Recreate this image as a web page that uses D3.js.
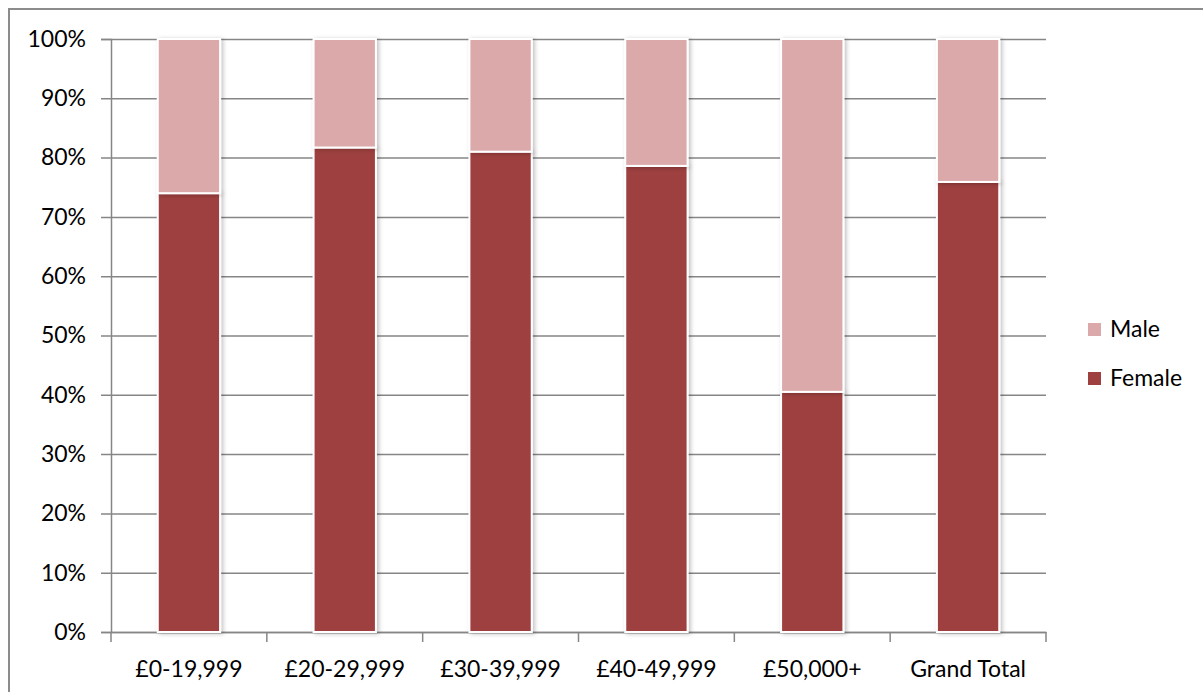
<!DOCTYPE html>
<html lang="en">
<head>
<meta charset="UTF-8">
<title>Salary band by gender</title>
<script src="https://d3js.org/d3.v7.min.js"></script>
<style>
  body { margin: 0; background: #fff; }
  text { font-family: Lato, "Open Sans", sans-serif; fill: #000; }
</style>
</head>
<body>
<div id="chart"></div>
<script>
// data (share of each band)
var bands = ["£0-19,999", "£20-29,999", "£30-39,999", "£40-49,999", "£50,000+", "Grand Total"];
var female = [0.740, 0.817, 0.810, 0.786, 0.405, 0.759];
var male = female.map(function(f) { return 1 - f; });
var yTicks = [0, 0.1, 0.2, 0.3, 0.4, 0.5, 0.6, 0.7, 0.8, 0.9, 1];
var seriesKeys = ["Female", "Male"];
var colors = { Female: "#9e403f", Male: "#dba9aa" };

var W = 1203, H = 692;
var margin = { top: 39, left: 111, right: 157, bottom: 60 };
var width = W - margin.left - margin.right,
    height = H - margin.top - margin.bottom;

var svg = d3.select("#chart").append("svg")
    .attr("width", W)
    .attr("height", H);

// outer chart frame
svg.append("rect")
    .attr("x", 9).attr("y", 9)
    .attr("width", W + 20).attr("height", H + 20)
    .attr("fill", "none")
    .attr("stroke", "#8c8c8c")
    .attr("stroke-width", 2);

var defs = svg.append("defs");
var shadow = defs.append("filter").attr("id", "shadow")
    .attr("x", "-20%").attr("y", "-5%").attr("width", "150%").attr("height", "115%");
shadow.append("feDropShadow")
    .attr("dx", 2).attr("dy", 1).attr("stdDeviation", 2)
    .attr("flood-color", "#000").attr("flood-opacity", 0.25);

var g = svg.append("g")
    .attr("transform", "translate(" + margin.left + "," + margin.top + ")");

var rows = bands.map(function(b, i) { return { band: b, Female: female[i], Male: male[i] }; });

var x = d3.scaleBand().domain(bands).range([0, width]).paddingInner(0).paddingOuter(0);
var y = d3.scaleLinear().domain([0, 1]).range([height, 0]);

// gridlines + y axis
var yAxis = g.append("g")
    .call(d3.axisLeft(y).tickValues(yTicks).tickFormat(d3.format(".0%")).tickSize(10).tickPadding(15));
yAxis.select(".domain").attr("stroke", "#868686").attr("stroke-width", 1.5);
yAxis.selectAll(".tick line").attr("stroke", "#868686").attr("stroke-width", 1.5)
    .attr("x1", -10).attr("x2", width);
yAxis.selectAll(".tick text").style("font-size", "23px").attr("fill", "#000");

// x axis with ticks at band edges
var xAxis = g.append("g")
    .attr("transform", "translate(0," + height + ")")
    .call(d3.axisBottom(x).tickSize(0).tickPadding(29));
xAxis.select(".domain").attr("stroke", "#868686").attr("stroke-width", 1.5);
xAxis.selectAll(".tick text").style("font-size", "23px").attr("fill", "#000");
xAxis.selectAll(".edge")
    .data(bands.concat([null]))
    .enter().append("line")
    .attr("class", "edge")
    .attr("x1", function(d, i) { return i * x.step(); })
    .attr("x2", function(d, i) { return i * x.step(); })
    .attr("y1", 0).attr("y2", 10)
    .attr("stroke", "#868686").attr("stroke-width", 1.5);

// stacked bars
var stacked = d3.stack().keys(seriesKeys)(rows);
var barW = x.bandwidth() * 0.4;

g.append("g").selectAll("g")
    .data(stacked)
    .enter().append("g")
    .attr("fill", function(d) { return colors[d.key]; })
    .selectAll("rect")
    .data(function(d) { return d; })
    .enter().append("rect")
    .attr("x", function(d) { return x(d.data.band) + (x.bandwidth() - barW) / 2; })
    .attr("y", function(d) { return y(d[1]); })
    .attr("width", barW)
    .attr("height", function(d) { return y(d[0]) - y(d[1]); })
    .attr("stroke", "#fff")
    .attr("stroke-width", 2)
    .attr("filter", "url(#shadow)");

// legend
var legend = svg.append("g").attr("transform", "translate(1088,323)");
var legendItems = ["Male", "Female"];
var li = legend.selectAll("g")
    .data(legendItems)
    .enter().append("g")
    .attr("transform", function(d, i) { return "translate(0," + (i * 49) + ")"; });
li.append("rect")
    .attr("width", 13).attr("height", 13)
    .attr("fill", function(d) { return colors[d]; });
li.append("text")
    .attr("x", 22).attr("y", 14)
    .style("font-size", "23px")
    .text(function(d) { return d; });
</script>
</body>
</html>
